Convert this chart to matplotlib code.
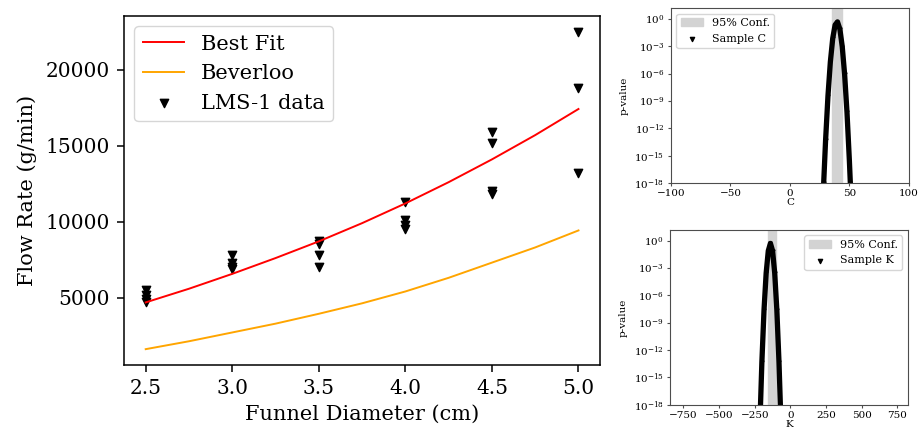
import numpy as np
import matplotlib
matplotlib.use('Agg')
import matplotlib.pyplot as plt

plt.rcParams['font.family'] = 'DejaVu Serif'
plt.rcParams['mathtext.fontset'] = 'dejavuserif'

# Flow rate data
diam = [2.5, 2.5, 2.5, 2.5,
        3.0, 3.0, 3.0, 3.0,
        3.5, 3.5, 3.5, 3.5,
        4.0, 4.0, 4.0, 4.0,
        4.5, 4.5, 4.5, 4.5,
        5.0, 5.0, 5.0]
flow = [5500, 5200, 4900, 4700,
        7800, 7300, 7000, 6900,
        8700, 8500, 7800, 7000,
        11300, 10100, 9800, 9500,
        15900, 15200, 12000, 11800,
        22500, 18800, 13200]

d_curve = [2.5, 2.75, 3.0, 3.25, 3.5, 3.75, 4.0, 4.25, 4.5, 4.75, 5.0]
best_fit = [4680, 5580, 6560, 7600, 8700, 9900, 11200, 12600, 14100, 15700, 17420]
beverloo = [1600, 2120, 2700, 3280, 3930, 4620, 5400, 6300, 7300, 8300, 9420]

# p-value scans
c_vals = [27.5, 28.4, 30, 32, 34, 36, 38, 40, 42, 44, 46, 48, 50, 50.8, 51.7]
c_p = [1e-21, 1e-18, 5e-14, 3.6e-9, 1.9e-5, 7.4e-3, 0.22, 0.48, 0.078,
       9.3e-4, 8.3e-7, 5.6e-11, 2.8e-16, 1e-18, 1e-21]
c_conf = (35, 44)

k_vals = [-220, -215, -200, -185, -170, -155, -140, -125, -110, -95, -80, -65, -60]
k_p = [1e-23, 2.5e-21, 5e-14, 2.5e-8, 2.8e-4, 0.078, 0.5, 0.078,
       2.8e-4, 2.5e-8, 5e-14, 2.5e-21, 1e-23]
k_conf = (-159, -101)

fig = plt.figure(figsize=(9.19, 4.33), dpi=100)

# main panel
ax = fig.add_axes([0.135, 0.157, 0.518, 0.806])
ax.plot(d_curve, best_fit, color='red', lw=1.4, label='Best Fit')
ax.plot(d_curve, beverloo, color='orange', lw=1.4, label='Beverloo')
ax.scatter(diam, flow, marker='v', color='black', s=36, label='LMS-1 data')
ax.set_xticks([2.5, 3.0, 3.5, 4.0, 4.5, 5.0])
ax.set_yticks([5000, 10000, 15000, 20000])
ax.tick_params(labelsize=14.5, length=5, width=1.1, pad=5)
for s in ax.spines.values():
    s.set_linewidth(1.1)
ax.set_xlabel('Funnel Diameter (cm)', fontsize=15, labelpad=5)
ax.set_ylabel('Flow Rate (g/min)', fontsize=15, labelpad=6)
ax.legend(loc='upper left', fontsize=15)

log_ticks = [1e-18, 1e-15, 1e-12, 1e-9, 1e-6, 1e-3, 1e0]


def pvalue_panel(rect, vals, p, conf, name, xlim, xticks, loc):
    a = fig.add_axes(rect)
    a.axvspan(conf[0], conf[1], color='lightgray', label='95% Conf.')
    a.scatter(vals, p, marker='v', color='black', s=4, zorder=1,
              label='Sample ' + name)
    a.plot(vals, p, color='black', lw=3.8, zorder=2)
    a.set_yscale('log')
    a.set_ylim(1e-18, 15)
    a.set_xlim(*xlim)
    a.set_yticks(log_ticks)
    a.minorticks_off()
    a.set_xticks(xticks)
    a.tick_params(labelsize=7.5, length=2.5, pad=2, color='0.3')
    for s in a.spines.values():
        s.set_color('0.3')
    a.set_xlabel(name, fontsize=7.5, labelpad=0)
    a.set_ylabel('p-value', fontsize=7.5)
    a.legend(loc=loc, fontsize=8, markerscale=1.5)
    return a


pvalue_panel([0.730, 0.577, 0.259, 0.404], c_vals, c_p, c_conf, 'C',
             (-100, 100), [-100, -50, 0, 50, 100], 'upper left')
pvalue_panel([0.729, 0.065, 0.259, 0.404], k_vals, k_p, k_conf, 'K',
             (-845, 825), [-750, -500, -250, 0, 250, 500, 750], 'upper right')

fig.savefig('out.png', dpi=100)
